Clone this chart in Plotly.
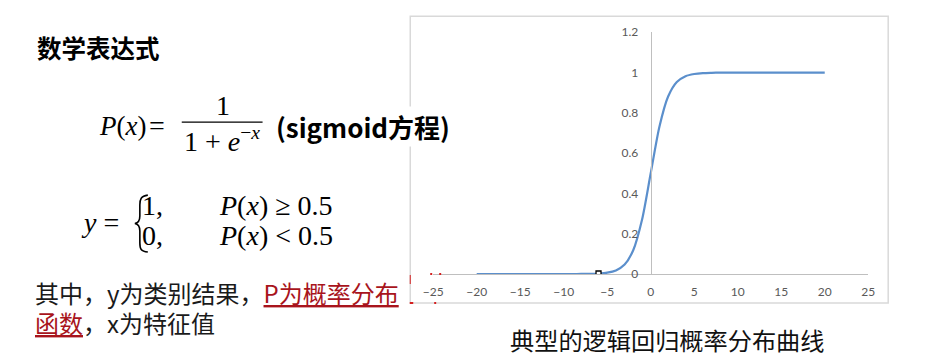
import plotly.graph_objects as go

# ---- data ----
x_vals = [-20, -19, -18, -17, -16, -15, -14, -13, -12, -11, -10, -9, -8, -7, -6, -5, -4, -3, -2, -1,
          0, 1, 2, 3, 4, 5, 6, 7, 8, 9, 10, 11, 12, 13, 14, 15, 16, 17, 18, 19, 20]
p_vals = [0.0, 0.0, 0.0, 0.0, 0.0, 0.0, 0.0, 0.0, 0.0, 0.0, 0.0, 0.0001, 0.0003, 0.0009, 0.0025, 0.0067,
          0.018, 0.047, 0.119, 0.269, 0.5, 0.731, 0.881, 0.953, 0.982, 0.993, 0.9975, 0.999, 0.9997,
          0.9999, 1.0, 1.0, 1.0, 1.0, 1.0, 1.0, 1.0, 1.0, 1.0, 1.0, 1.0]
selected_x = [-6]
selected_p = [0.0025]
x_ticks = [-25, -20, -15, -10, -5, 0, 5, 10, 15, 20, 25]
y_ticks = [0, 0.2, 0.4, 0.6, 0.8, 1, 1.2]
y_tick_text = ["0", "0.2", "0.4", "0.6", "0.8", "1", "1.2"]

# layout helpers: target pixel positions -> paper fractions
# (calibrated for the page's 8px body margin and the photo's slight scaling)
OFF = 8
SX, SY = 0.984, 0.960
W, H = 936, 365


def px(x):
    return (x / SX - OFF) / W


def py(y):
    return 1 - (y / SY - OFF) / H


CJK = "Noto Sans CJK SC"
SERIF = "Liberation Serif"
RED = "#a8141c"

fig = go.Figure()
fig.add_trace(go.Scatter(x=x_vals, y=p_vals, mode="lines",
                         line=dict(color="#5b8fcc", width=2.2, shape="spline", smoothing=0.8),
                         hoverinfo="skip", showlegend=False))
fig.add_trace(go.Scatter(x=selected_x, y=selected_p, mode="markers",
                         marker=dict(symbol="square", size=5, color="white",
                                     line=dict(color="black", width=1.3)),
                         hoverinfo="skip", showlegend=False))

x0, x1 = 432, 868   # target positions of -25 and 25
y_top, y_bot = 32, 274  # target positions of 1.2 and 0

fig.update_layout(
    width=W, height=H, autosize=False,
    margin=dict(l=0, r=0, t=0, b=0),
    paper_bgcolor="white", plot_bgcolor="white",
    font=dict(family="Lato", size=12, color="#595959"),
    xaxis=dict(domain=[px(x0), px(x1)], range=[-25, 25], tickvals=x_ticks,
               showgrid=False, zeroline=False, showline=True, linecolor="#bfbfbf", linewidth=1.2,
               ticks="", ticklabelstandoff=6, tickfont=dict(size=12, color="#595959"),
               fixedrange=True),
    yaxis=dict(domain=[py(y_bot), py(y_top)], range=[0, 1.2], tickvals=y_ticks, ticktext=y_tick_text,
               anchor="free", position=px(650),
               showgrid=False, zeroline=False, showline=True, linecolor="#bfbfbf", linewidth=1.2,
               ticks="", ticklabelstandoff=10, tickfont=dict(size=12, color="#595959"),
               fixedrange=True),
)

shapes = []
# chart border
shapes.append(dict(type="rect", xref="paper", yref="paper", x0=px(409), x1=px(888), y0=py(303), y1=py(16),
                   line=dict(color="#d9d9d9", width=1.5), layer="below"))
# fraction bar
shapes.append(dict(type="line", xref="paper", yref="paper", x0=px(180), x1=px(261), y0=py(122), y1=py(122),
                   line=dict(color="black", width=1.3)))


def P(x, y):
    return f"{px(x):.5f},{py(y):.5f}"


# brace
brace = (f"M {P(146, 195)} C {P(139, 196)} {P(138, 199)} {P(138, 205)} "
         f"L {P(138, 216)} C {P(138, 221)} {P(136, 223)} {P(133, 223.5)} "
         f"C {P(136, 224)} {P(138, 226)} {P(138, 231)} "
         f"L {P(138, 243)} C {P(138, 249)} {P(139, 251)} {P(146, 252)}")
shapes.append(dict(type="path", xref="paper", yref="paper", path=brace,
                   line=dict(color="black", width=1.6)))
# small red selection handles
for (a, b, c, d) in [(408.5, 275, 409.5, 284), (429, 273, 431, 275), (438, 273, 440, 275),
                     (408.5, 302, 412, 304), (433, 302, 435, 304)]:
    shapes.append(dict(type="rect", xref="paper", yref="paper", x0=px(a), x1=px(c), y0=py(d), y1=py(b),
                       line=dict(width=0), fillcolor="#d42020"))
fig.update_layout(shapes=shapes)

ann = []


def text(t, x, y, size, family=CJK, color="black", bg=None):
    d = dict(text=t, x=px(x), y=py(y), xref="paper", yref="paper", xanchor="center", yanchor="middle",
             showarrow=False, font=dict(family=family, size=size, color=color))
    if bg:
        d["bgcolor"] = bg
    ann.append(d)


text("<b>数学表达式</b>", 97, 47, 24.5)
# P(x) = 1 / (1 + e^-x)
text("<i>P</i>(<i>x</i>)", 121, 126, 27, SERIF)
text("=", 155.5, 125, 28, SERIF)
text("1", 221, 105, 28, SERIF)
text("1 + <i>e</i><sup>−<i>x</i></sup>", 220, 139, 28, SERIF)
text("<b>(sigmoid方程)</b>", 362, 126, 26, bg="white")
# piecewise y
text("<i>y</i> =", 98.5, 222, 28, SERIF)
text("1,", 151, 205, 28, SERIF)
text("<i>P</i>(<i>x</i>) ≥ 0.5", 274, 205, 28, SERIF)
text("0,", 151, 235, 28, SERIF)
text("<i>P</i>(<i>x</i>) &lt; 0.5", 274, 235, 28, SERIF)
# description
text(f"其中，y为类别结果，<span style='color:{RED}'><u>P为概率分布</u></span>", 215, 293, 24, color="#1a1a1a")
text(f"<span style='color:{RED}'><u>函数</u></span>，x为特征值", 123, 323, 24, color="#1a1a1a")
# caption
text("典型的逻辑回归概率分布曲线", 666, 340, 24.2, color="#111111")

fig.update_layout(annotations=ann)
fig.write_html("out.html")
